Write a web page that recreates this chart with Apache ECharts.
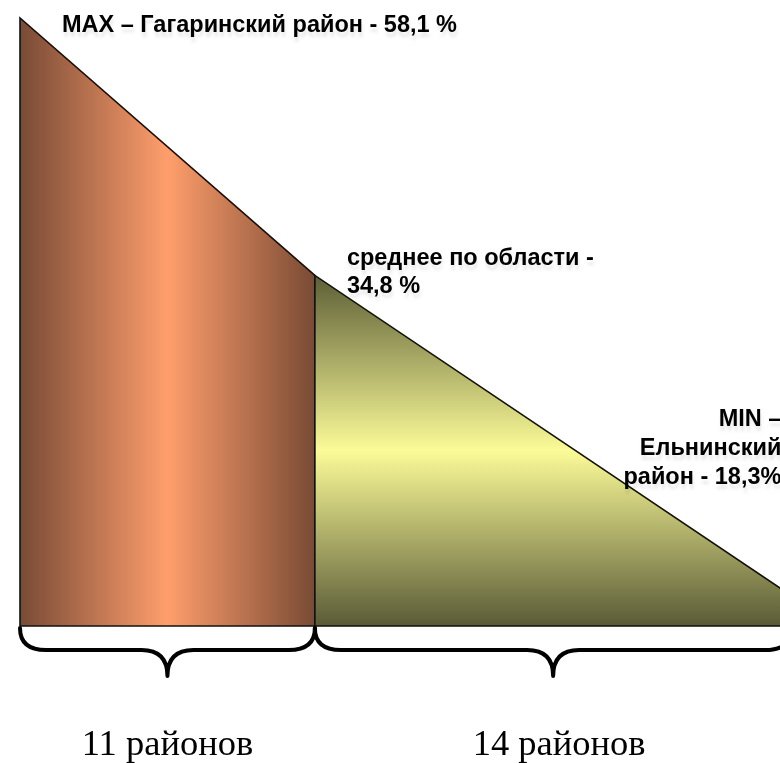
<!DOCTYPE html>
<html>
<head>
<meta charset="utf-8">
<script src="https://cdn.jsdelivr.net/npm/echarts@6/dist/echarts.min.js"></script>
<style>
html,body{margin:0;padding:0;background:#fff;}
#chart{width:780px;height:763px;}
</style>
</head>
<body>
<div id="chart"></div>
<script>
// Groups of districts (bottom captions)
const groupLabels = ['11 районов', '14 районов'];
// Boundaries of the schematic wedge along the horizontal axis (share of width, %)
const spanEdges = [0, 38.8, 101.5];
// Heights of the wedge outline at those boundaries (axis units)
const outlineHeights = [58.1, 33.5, 2.9];
// Percent values named in the annotations
const pointValues = ['58,1', '34,8', '18,3'];
const pointLabels = [
  'MAX – Гагаринский район - ' + pointValues[0] + ' %',
  'среднее по области -\n' + pointValues[1] + ' %',
  'MIN –\nЕльнинский\nрайон - ' + pointValues[2] + '%'
];

const fills = [
  {type:'linear', x:0, y:0, x2:1, y2:0, colorStops:[
    {offset:0, color:'#784a35'}, {offset:0.5, color:'#ff9e6c'}, {offset:1, color:'#784a34'}]},
  {type:'linear', x:0, y:0, x2:0, y2:1, colorStops:[
    {offset:0, color:'#5c5e36'}, {offset:0.5, color:'#fbfb98'}, {offset:1, color:'#595a36'}]}
];

const chart = echarts.init(document.getElementById('chart'), null, {renderer:'canvas'});

const labelFont = {fontFamily:'Liberation Sans, Arial, sans-serif', fontWeight:'bold', fontSize:23.5,
  fill:'#000', textShadowColor:'rgba(0,0,0,0.08)', textShadowBlur:3, textShadowOffsetX:1, textShadowOffsetY:5};

const labelPlacement = [
  {dx:42, dy:8, align:'left', lineHeight:28},
  {dx:32, dy:-3, align:'left', lineHeight:28},
  {dx:-10, dy:-147, align:'right', lineHeight:29}
];

const option = {
  animation:false,
  grid:{left:20, right:0, top:18, bottom:137},
  xAxis:{type:'value', min:0, max:100, show:false},
  yAxis:{type:'value', min:0, max:58.1, show:false},
  series:[
    {
      type:'custom',
      clip:false,
      data:[0,1].map(i => [i]),
      renderItem:function(params, api){
        const i = api.value(0);
        const p = [
          api.coord([spanEdges[i], 0]),
          api.coord([spanEdges[i], outlineHeights[i]]),
          api.coord([spanEdges[i+1], outlineHeights[i+1]]),
          api.coord([spanEdges[i+1], 0])
        ];
        return {type:'polygon', shape:{points:p},
          style:{fill:fills[i], stroke:'#111', lineWidth:1.6, lineJoin:'miter'}};
      },
      z:2
    },
    {
      type:'custom',
      clip:false,
      data:[0,1].map(i => [i]),
      renderItem:function(params, api){
        const i = api.value(0);
        const a = api.coord([spanEdges[i], 0]);
        const b = api.coord([spanEdges[i+1], 0]);
        const x0 = a[0], x1 = b[0], xm = (x0 + x1) / 2;
        const y0 = a[1] + 2, y1 = a[1] + 24, y2 = a[1] + 50;
        const r = 26;
        const d = 'M' + x0 + ' ' + y0 +
          ' Q' + x0 + ' ' + y1 + ' ' + (x0 + r) + ' ' + y1 +
          ' L' + (xm - r) + ' ' + y1 +
          ' Q' + xm + ' ' + y1 + ' ' + xm + ' ' + y2 +
          ' Q' + xm + ' ' + y1 + ' ' + (xm + r) + ' ' + y1 +
          ' L' + (x1 - r) + ' ' + y1 +
          ' Q' + x1 + ' ' + y1 + ' ' + x1 + ' ' + y0;
        return {type:'group', children:[
          {type:'path', shape:{pathData:d},
            style:{fill:null, stroke:'#000', lineWidth:4, lineCap:'round', lineJoin:'round'}},
          {type:'text', x:xm + (i === 1 ? 6 : 0), y:a[1] + 119,
            style:{text:groupLabels[i], fontFamily:'Liberation Serif, Times New Roman, serif',
              fontSize:36.5, fill:'#000', align:'center', verticalAlign:'middle'}}
        ]};
      },
      z:3
    },
    {
      type:'custom',
      clip:false,
      data:[0,1,2].map(i => [i]),
      renderItem:function(params, api){
        const i = api.value(0);
        const c = api.coord([spanEdges[i], outlineHeights[i]]);
        const lp = labelPlacement[i];
        return {type:'text', x:c[0] + lp.dx, y:c[1] + lp.dy,
          style:Object.assign({}, labelFont, {text:pointLabels[i], align:lp.align,
            verticalAlign:'middle', lineHeight:lp.lineHeight})};
      },
      z:4
    }
  ]
};
chart.setOption(option);
</script>
</body>
</html>
